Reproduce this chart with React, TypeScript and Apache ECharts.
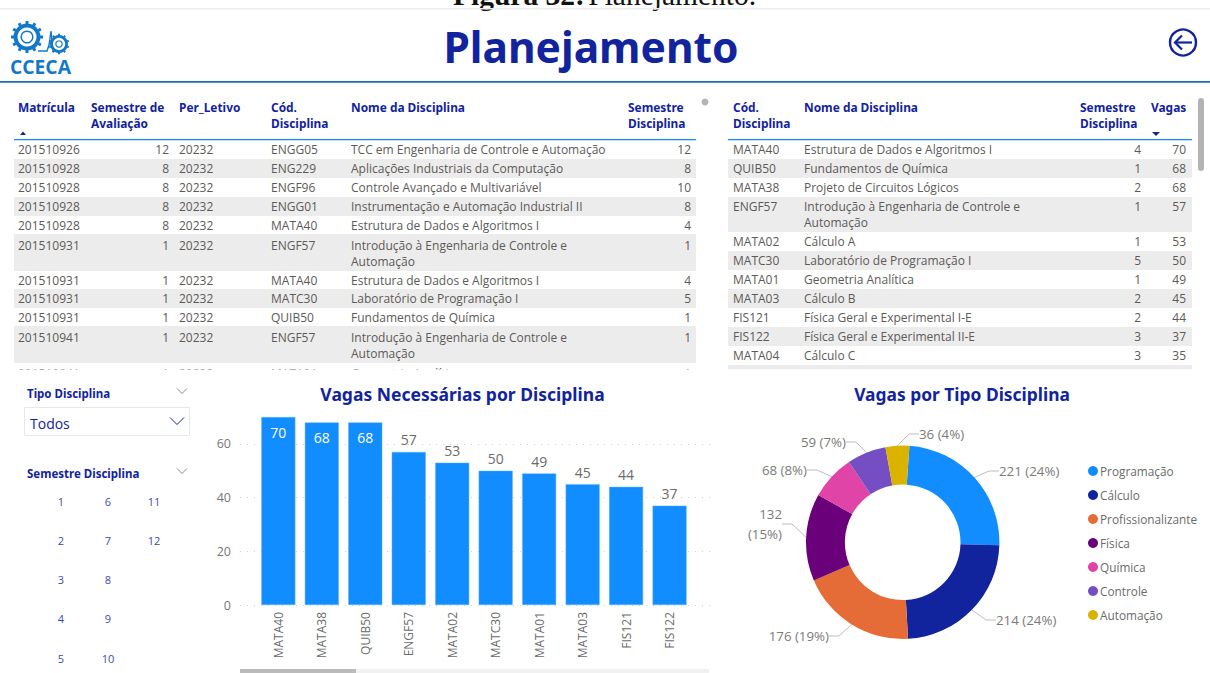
import React, { useEffect, useRef } from "react";
import * as echarts from "echarts";

const barCategories = ["MATA40", "MATA38", "QUIB50", "ENGF57", "MATA02", "MATC30", "MATA01", "MATA03", "FIS121", "FIS122"];
const barValues = [70, 68, 68, 57, 53, 50, 49, 45, 44, 37];
const pieNames = ["Programação", "Cálculo", "Profissionalizante", "Física", "Química", "Controle", "Automação"];
const pieValues = [221, 214, 176, 132, 68, 59, 36];
const pieColors = ["#118DFF", "#12239E", "#E66C37", "#6B007B", "#E044A7", "#744EC2", "#D9B300"];
const pieLabels = ["221 (24%)", "214 (24%)", "176 (19%)", "132\n(15%)", "68 (8%)", "59 (7%)", "36 (4%)"];

const matriculas = ["201510926", "201510928", "201510928", "201510928", "201510928", "201510931", "201510931", "201510931", "201510931", "201510941", "201510941"];
const semestreAval = ["12", "8", "8", "8", "8", "1", "1", "1", "1", "1", "1"];
const perLetivo = ["20232", "20232", "20232", "20232", "20232", "20232", "20232", "20232", "20232", "20232", "20232"];
const codLeft = ["ENGG05", "ENG229", "ENGF96", "ENGG01", "MATA40", "ENGF57", "MATA40", "MATC30", "QUIB50", "ENGF57", "MATA01"];
const nomeLeft = [
  "TCC em Engenharia de Controle e Automação",
  "Aplicações Industriais da Computação",
  "Controle Avançado e Multivariável",
  "Instrumentação e Automação Industrial II",
  "Estrutura de Dados e Algoritmos I",
  "Introdução à Engenharia de Controle e|Automação",
  "Estrutura de Dados e Algoritmos I",
  "Laboratório de Programação I",
  "Fundamentos de Química",
  "Introdução à Engenharia de Controle e|Automação",
  "Geometria Analítica",
];
const semLeft = ["12", "8", "10", "8", "4", "1", "4", "5", "1", "1", "1"];

const codRight = ["MATA40", "QUIB50", "MATA38", "ENGF57", "MATA02", "MATC30", "MATA01", "MATA03", "FIS121", "FIS122", "MATA04", "MATA05"];
const nomeRight = [
  "Estrutura de Dados e Algoritmos I",
  "Fundamentos de Química",
  "Projeto de Circuitos Lógicos",
  "Introdução à Engenharia de Controle e|Automação",
  "Cálculo A",
  "Laboratório de Programação I",
  "Geometria Analítica",
  "Cálculo B",
  "Física Geral e Experimental I-E",
  "Física Geral e Experimental II-E",
  "Cálculo C",
  "Álgebra Linear",
];
const semRight = ["4", "1", "2", "1", "1", "5", "1", "2", "2", "3", "3", "3"];
const vagasRight = ["70", "68", "68", "57", "53", "50", "49", "45", "44", "37", "35", "33"];
const semestreSlicer = [["1", "6", "11"], ["2", "7", "12"], ["3", "8"], ["4", "9"], ["5", "10"]];

const NAVY = "#12239E";
const TXT = "#5c5a58";
const BAND = "#ECECEC";
const UI = "'Open Sans'";
const HEAD = "'Noto Sans'";

function t(x: number, y: number, text: string, o: any = {}) {
  return {
    type: "text",
    x,
    y,
    z: o.z ?? 5,
    style: {
      text,
      fill: o.fill ?? TXT,
      font: `${o.weight ?? "normal"} ${o.size ?? 12}px ${o.family ?? UI}`,
      textAlign: o.align ?? "left",
      textVerticalAlign: "middle",
    },
  };
}
const rect = (x: number, y: number, w: number, h: number, fill: string, z = 1, r = 0) => ({
  type: "rect",
  z,
  shape: { x, y, width: w, height: h, r },
  style: { fill },
});

function chevron(cx: number, cy: number, w: number, h: number, stroke: string) {
  return {
    type: "polyline",
    z: 5,
    shape: { points: [[cx - w, cy - h], [cx, cy + h], [cx + w, cy - h]] },
    style: { stroke, fill: "none", lineWidth: 1 },
  };
}

function gear(cx: number, cy: number, rOuter: number, rInner: number, rHole: number, teeth: number, toothW: number, toothH: number) {
  const els: any[] = [];
  for (let i = 0; i < teeth; i++) {
    const a = (i * 2 * Math.PI) / teeth;
    els.push({
      type: "rect",
      z: 6,
      x: cx,
      y: cy,
      rotation: a,
      shape: { x: -toothW / 2, y: -rOuter - toothH + 0.5, width: toothW, height: toothH },
      style: { fill: "#1478C8" },
    });
  }
  els.push({ type: "ring", z: 6, shape: { cx, cy, r: rOuter, r0: rInner }, style: { fill: "#1478C8" } });
  els.push({ type: "ring", z: 6, shape: { cx, cy, r: rHole, r0: rHole - Math.max(1.2, rHole * 0.22) }, style: { fill: "#1478C8" } });
  return els;
}

function buildTableGraphics() {
  const g: any[] = [];
  const leftRowY = [140, 159, 178, 197, 216, 234, 271, 289, 308, 326, 363, 369.5];
  const rightRowY = [140, 159, 178, 197, 232, 251, 270, 289, 308, 327, 346, 365, 369.5];

  // left table
  for (let i = 0; i < matriculas.length; i++) {
    const top = leftRowY[i];
    const bottom = leftRowY[i + 1];
    if (i % 2 === 1) g.push(rect(14, top, 682, bottom - top, BAND, 1));
    const tall = nomeLeft[i].includes("|");
    const first = i === 10 ? 373 : top + (tall ? 11 : 9.5);
    g.push(t(18, first, matriculas[i]));
    g.push(t(169, first, semestreAval[i], { align: "right" }));
    g.push(t(179, first, perLetivo[i]));
    g.push(t(271, first, codLeft[i]));
    nomeLeft[i].split("|").forEach((line, k) => g.push(t(351, first + k * 16, line)));
    g.push(t(691, first, semLeft[i], { align: "right" }));
  }
  // right table
  for (let i = 0; i < codRight.length; i++) {
    const top = rightRowY[i];
    const bottom = rightRowY[i + 1];
    if (i % 2 === 1) g.push(rect(728, top, 464, bottom - top, BAND, 1));
    const first = i === 11 ? 378 : top + 9.5;
    g.push(t(733, first, codRight[i]));
    nomeRight[i].split("|").forEach((line, k) => g.push(t(804, first + k * 16, line)));
    g.push(t(1141, first, semRight[i], { align: "right" }));
    g.push(t(1186, first, vagasRight[i], { align: "right" }));
  }
  // mask hiding the rows scrolled out of view
  g.push(rect(0, 369.5, 1210, 16.5, "#fff", 8));

  const hdr = (x: number, y: number, s: string) => t(x, y, s, { fill: NAVY, weight: "bold", size: 11.9, family: HEAD, z: 9 });
  g.push(hdr(18, 107, "Matrícula"));
  g.push(hdr(91, 107, "Semestre de"), hdr(91, 123, "Avaliação"));
  g.push(hdr(179, 107, "Per_Letivo"));
  g.push(hdr(271, 107, "Cód."), hdr(271, 123, "Disciplina"));
  g.push(hdr(351, 107, "Nome da Disciplina"));
  g.push(hdr(628, 107, "Semestre"), hdr(628, 123, "Disciplina"));
  g.push(hdr(733, 107, "Cód."), hdr(733, 123, "Disciplina"));
  g.push(hdr(804, 107, "Nome da Disciplina"));
  g.push(hdr(1080, 107, "Semestre"), hdr(1080, 123, "Disciplina"));
  g.push(hdr(1151, 107, "Vagas"));
  g.push({ type: "polygon", z: 9, shape: { points: [[20, 135], [26, 135], [23, 131.5]] }, style: { fill: NAVY } });
  g.push({ type: "polygon", z: 9, shape: { points: [[1152, 132], [1160, 132], [1156, 136]] }, style: { fill: NAVY } });
  g.push(rect(14, 139, 682, 1.2, "#118DFF", 3));
  g.push(rect(728, 139, 464, 1.2, "#118DFF", 3));
  // scrollbars
  g.push({ type: "circle", z: 5, shape: { cx: 705, cy: 102, r: 3.5 }, style: { fill: "#B5B5B5" } });
  g.push(rect(1198, 98, 6, 73, "#B3B3B3", 5, 3));
  return g;
}

function buildPageGraphics() {
  const g: any[] = [];
  // caption from the page above the screenshot
  g.push({
    type: "text",
    x: 453,
    y: -5.5,
    z: 9,
    style: {
      rich: {
        b: { font: "bold 29.5px 'Liberation Serif'", fill: "#111" },
        r: { font: "normal 29.5px 'Liberation Serif'", fill: "#111" },
      },
      text: "{b|Figura 32:} {r|Planejamento.}",
      textVerticalAlign: "middle",
    },
  });
  g.push(rect(0, 8, 1210, 1.5, "#EDEDED", 10));
  g.push(rect(0, 81, 1210, 1.8, "#1C6DB8", 3));
  g.push(t(591, 46, "Planejamento", { fill: NAVY, weight: "bold", size: 42.5, align: "center", family: "'Noto Sans'" }));

  // logo
  g.push(...gear(27, 37, 13.5, 9.5, 6.5, 12, 3, 3));
  g.push(...gear(59, 44, 9, 6.2, 3.8, 10, 2, 1.8));
  g.push({
    type: "polyline",
    z: 6,
    shape: { points: [[38, 51], [47, 51], [49, 45], [51, 31], [53, 51], [55, 49]] },
    style: { stroke: "#1478C8", lineWidth: 1.4, fill: "none" },
  });
  g.push(t(10, 66, "CCECA", { fill: "#1478C8", weight: "bold", size: 19.3, family: "'Open Sans'" }));

  // back button
  g.push({ type: "circle", z: 5, shape: { cx: 1183, cy: 42.5, r: 13 }, style: { fill: "none", stroke: NAVY, lineWidth: 2.4 } });
  g.push({ type: "polyline", z: 5, shape: { points: [[1192, 42.5], [1175, 42.5]] }, style: { stroke: NAVY, lineWidth: 2.2, fill: "none" } });
  g.push({ type: "polyline", z: 5, shape: { points: [[1182, 35.5], [1175, 42.5], [1182, 49.5]] }, style: { stroke: NAVY, lineWidth: 2.2, fill: "none" } });

  // slicers
  const slicerTitle = (x: number, y: number, s: string) => t(x, y, s, { fill: NAVY, weight: "bold", size: 11.5, family: HEAD, z: 9 });
  g.push(slicerTitle(27, 393, "Tipo Disciplina"));
  g.push(chevron(182, 391, 5, 2.5, "#888"));
  g.push({ type: "rect", z: 2, shape: { x: 24.5, y: 407.5, width: 165, height: 28 }, style: { fill: "#fff", stroke: "#E8E8E8", lineWidth: 1 } });
  g.push(t(30, 423, "Todos", { fill: NAVY, size: 14 }));
  g.push(chevron(177, 421, 7, 3.5, NAVY));
  g.push(slicerTitle(27, 473, "Semestre Disciplina"));
  g.push(chevron(182, 471, 5, 2.5, "#888"));
  const colsX = [61, 108, 154];
  const rowsY = [501, 540, 579, 618, 658];
  semestreSlicer.forEach((row, r) =>
    row.forEach((s, c) => g.push(t(colsX[c], rowsY[r], s, { fill: "#3D4BAE", size: 11, align: "center" })))
  );

  // chart titles
  g.push(t(462.5, 394, "Vagas Necessárias por Disciplina", { fill: NAVY, weight: "bold", size: 17.5, align: "center", family: HEAD, z: 9 }));
  g.push(t(962, 394, "Vagas por Tipo Disciplina", { fill: NAVY, weight: "bold", size: 17.4, align: "center", family: HEAD, z: 9 }));

  // horizontal scrollbar of the column chart
  g.push(rect(240, 669, 469, 4, "#F1F1F1", 1));
  g.push(rect(240, 669, 116, 4, "#BBBBBB", 2));
  return g;
}

const pieLabelPos: Record<string, { x: number; y: number; align: string }> = {
  "Programação": { x: 999, y: 471, align: "left" },
  "Cálculo": { x: 996, y: 620, align: "left" },
  "Profissionalizante": { x: 829, y: 636, align: "right" },
  "Física": { x: 782, y: 524, align: "right" },
  "Química": { x: 807, y: 470, align: "right" },
  "Controle": { x: 846, y: 442, align: "right" },
  "Automação": { x: 919, y: 434, align: "left" },
};

export default function App() {
  const ref = useRef<HTMLDivElement>(null);
  useEffect(() => {
    document.body.style.margin = "0";
    const chart = echarts.init(ref.current!, undefined, { renderer: "svg" });
    chart.setOption({
      animation: false,
      backgroundColor: "#fff",
      textStyle: { fontFamily: UI },
      grid: [
        { left: 240, width: 470, top: 390.2, height: 214.8, containLabel: false },
        { left: 256.6, width: 434.7, top: 390.2, height: 214.8, containLabel: false },
      ],
      xAxis: [
        { gridIndex: 0, type: "category", data: barCategories, show: false },
        {
          gridIndex: 1,
          type: "category",
          data: barCategories,
          axisLine: { show: false },
          axisTick: { show: false },
          axisLabel: { rotate: 90, color: "#6b6b6b", fontSize: 12, margin: 7, fontFamily: UI, interval: 0 },
        },
      ],
      yAxis: [
        {
          gridIndex: 0,
          type: "value",
          min: 0,
          max: 80,
          interval: 20,
          axisLine: { show: false },
          axisTick: { show: false },
          axisLabel: {
            color: "#777",
            fontSize: 12.5,
            margin: 9,
            fontFamily: UI,
            formatter: (v: number) => (v > 60 ? "" : String(v)),
          },
          splitLine: { show: true, showMaxLine: false, lineStyle: { color: "#D0D0D0", type: [1, 6], width: 1 } },
        },
        { gridIndex: 1, type: "value", min: 0, max: 80, interval: 20, show: false, splitLine: { show: false } },
      ],
      legend: {
        orient: "vertical",
        left: 1083,
        top: 460,
        itemWidth: 10,
        itemHeight: 10,
        itemGap: 12,
        icon: "circle",
        data: pieNames,
        formatter: (n: string) => n,
        textStyle: { color: "#6b6b6b", fontSize: 11.8, fontFamily: UI, padding: [0, 0, 0, -3] },
      },
      series: [
        {
          type: "bar",
          xAxisIndex: 1,
          yAxisIndex: 1,
          barWidth: 34,
          z: 3,
          itemStyle: { color: "#118DFF", borderColor: "#5FB2FF", borderWidth: 0.5 },
          data: barValues.map((v, i) => ({
            value: v,
            label:
              i < 3
                ? { show: true, position: "insideTop", distance: 8, color: "#fff", fontSize: 14 }
                : { show: true, position: "top", distance: 5, color: "#6b6b6b", fontSize: 14 },
          })),
        },
        {
          type: "pie",
          center: [902.7, 542.3],
          radius: [57.8, 96.7],
          startAngle: 86,
          clockwise: true,
          avoidLabelOverlap: false,
          data: pieNames.map((n, i) => ({ name: n, value: pieValues[i], itemStyle: { color: pieColors[i] } })),
          label: {
            show: true,
            color: "#7a7a7a",
            fontSize: 13.3,
            lineHeight: 20,
            fontFamily: UI,
            formatter: (p: any) => pieLabels[p.dataIndex],
          },
          labelLine: { show: true, length: 10, length2: 10, lineStyle: { color: "#BDBDBD", width: 1 } },
          labelLayout: (p: any) => {
            const pos = pieLabelPos[pieNames[p.dataIndex]];
            return { x: pos.x, y: pos.y, align: pos.align, verticalAlign: "middle" };
          },
        },
      ],
      graphic: { elements: [...buildTableGraphics(), ...buildPageGraphics()] },
    });
    return () => chart.dispose();
  }, []);
  return <div ref={ref} style={{ width: 1210, height: 673 }} />;
}
